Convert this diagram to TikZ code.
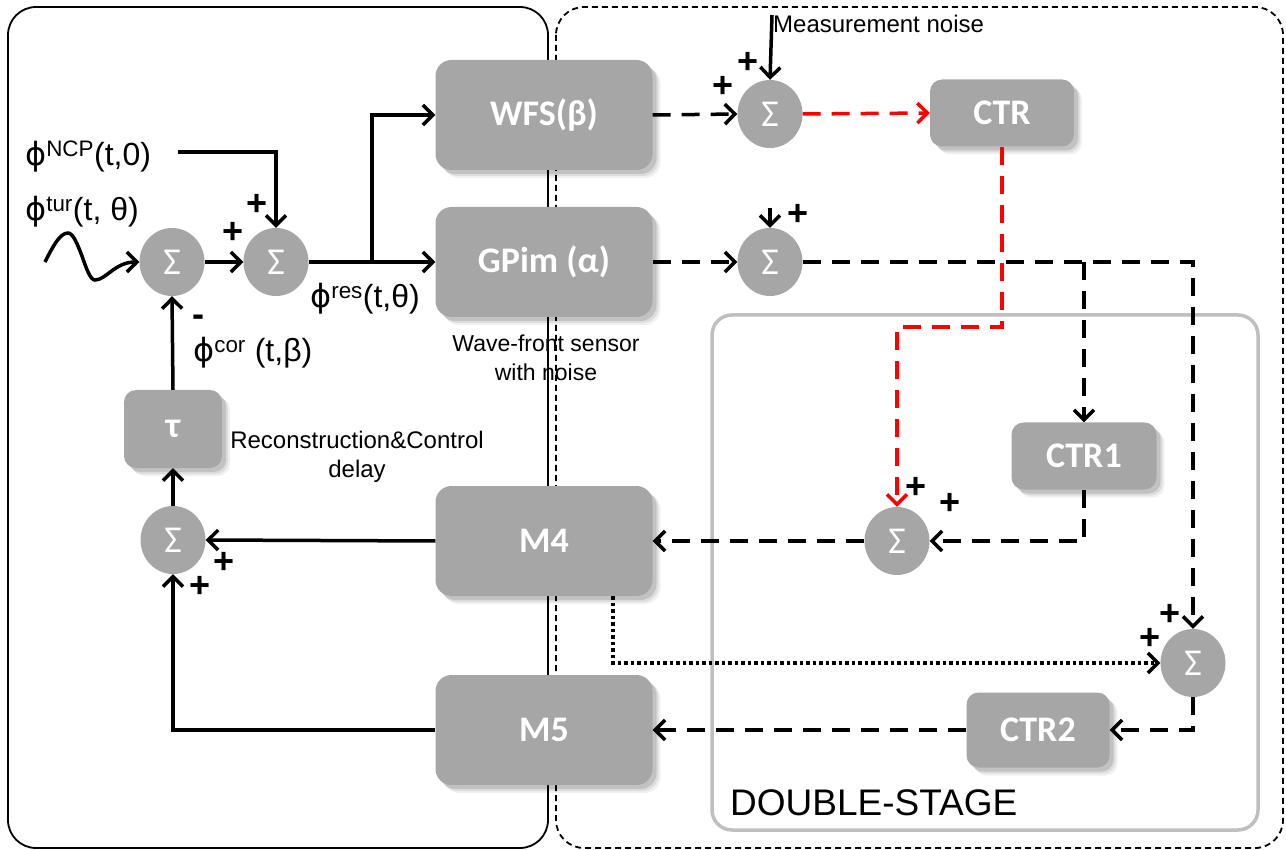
\documentclass[tikz,border=0pt]{standalone}
\usepackage{fontspec}
\setmainfont{Liberation Sans}
\newfontfamily\calfont{Carlito}
\newfontfamily\djv{DejaVu Sans}
\usetikzlibrary{arrows.meta,shapes.geometric}
\definecolor{boxgray}{HTML}{A6A6A6}
\definecolor{dsgray}{HTML}{BFBFBF}
\newcommand{\phisym}{{\djv ϕ}}
\begin{document}
\begin{tikzpicture}[x=1pt,y=-1pt,
  blk/.style={rectangle, rounded corners=16pt, fill=boxgray, text=white,
    font=\calfont\bfseries\fontsize{36}{36}\selectfont, inner sep=0pt,
    preaction={fill=black, opacity=0.06, transform canvas={xshift=8pt,yshift=-8pt}},
    preaction={fill=black, opacity=0.08, transform canvas={xshift=6pt,yshift=-6pt}},
    preaction={fill=black, opacity=0.12, transform canvas={xshift=4pt,yshift=-4pt}}},
  sumn/.style={ellipse, fill=boxgray, minimum width=65pt, minimum height=68pt,
    inner sep=0pt, text=white, font=\calfont\fontsize{38}{38}\selectfont},
  conn/.style={line width=3.5pt, -{Straight Barb[length=10pt,width=20pt]}},
  dsh/.style={conn, dash pattern=on 18pt off 11pt},
  dotln/.style={conn, dash pattern=on 3.5pt off 3pt},
  pl/.style={font=\bfseries\fontsize{36}{36}\selectfont, inner sep=0pt},
  lbl/.style={font=\fontsize{32}{34}\selectfont, inner sep=0pt, anchor=base west},
  note/.style={font=\fontsize{23}{29}\selectfont, inner sep=0pt, align=center}
]
\useasboundingbox (0,0) rectangle (1286,850);
% containers
\draw[line width=1.8pt, rounded corners=28pt] (8,7) rectangle (548,848);
\draw[line width=1.8pt, rounded corners=28pt, dash pattern=on 6pt off 4pt] (556,7) rectangle (1283,848);
\draw[draw=dsgray, line width=3.5pt, rounded corners=20pt] (712,315) rectangle (1258,830);
\node[anchor=base west, font=\fontsize{37}{37}\selectfont, inner sep=0pt] (ds) at (730,815) {DOUBLE-STAGE};

% blocks
\node[blk, minimum width=217pt, minimum height=110pt] (WFS) at (544,115) {WFS(β)};
\node[blk, minimum width=217pt, minimum height=110pt] (GPim) at (544,262) {GPim (α)};
\node[blk, minimum width=217pt, minimum height=110pt] (M4) at (544,541) {M4};
\node[blk, minimum width=217pt, minimum height=110pt] (M5) at (544,730) {M5};
\node[blk, minimum width=98pt, minimum height=78pt, rounded corners=12pt] (tau) at (173,429) {τ};
\node[blk, minimum width=144pt, minimum height=67pt, rounded corners=12pt] (CTR) at (1002,113) {CTR};
\node[blk, minimum width=145pt, minimum height=67pt, rounded corners=12pt] (CTR1) at (1084,456) {CTR1};
\node[blk, minimum width=143pt, minimum height=75pt, rounded corners=12pt] (CTR2) at (1038,730) {CTR2};

% sums
\node[sumn] (S1) at (172,262) {Σ};
\node[sumn] (S2) at (276,262) {Σ};
\node[sumn] (S3) at (770,114) {Σ};
\node[sumn] (S4) at (770,262) {Σ};
\node[sumn] (S5) at (173,540) {Σ};
\node[sumn] (S6) at (897,541) {Σ};
\node[sumn] (S7) at (1193,663) {Σ};

% labels
\node[lbl] (ncp) at (25,166) {\phisym\textsuperscript{NCP}(t,0)};
\node[lbl] (tur) at (25,221) {\phisym\textsuperscript{tur}(t, θ)};
\node[lbl] (res) at (310,308) {\phisym\textsuperscript{res}(t,θ)};
\node[lbl] (cor) at (193,362) {\phisym\textsuperscript{cor} (t,β)};
\node[note] (wfsn) at (546,358) {Wave-front sensor\\with noise};
\node[note, font=\fontsize{24}{29}\selectfont] (rcd) at (357,457) {Reconstruction\&Control\\delay};
\node[font=\fontsize{24}{24}\selectfont, inner sep=0pt, anchor=base west] (mnt) at (773,33) {Measurement noise};

% signs
\node[pl] (p1) at (233,233) {+};
\node[pl] (p2) at (257,205) {+};
\node[pl] (m1) at (198,321) {-};
\node[pl] (p3) at (748,63) {+};
\node[pl] (p4) at (723,87) {+};
\node[pl] (p5) at (798,215) {+};
\node[pl] (p6) at (916,488) {+};
\node[pl] (p7) at (950,504) {+};
\node[pl] (p8) at (1170,615) {+};
\node[pl] (p9) at (1150,639) {+};
\node[pl] (p10) at (224,563) {+};
\node[pl] (p11) at (200,587) {+};

% connectors left
\coordinate (ncpend) at (178,152);
\coordinate (wv) at (45,262);
\coordinate (split) at (372,262);
\draw[conn] (ncpend) -| (S2.north);
\draw[conn] (wv) sin (68,233) cos (82,256) sin (95,280) .. controls (106,280) and (115,262) .. (S1.west);
\draw[conn] (S1.east) -- (S2.west);
\draw[conn] (S2.east) -- (GPim.west);
\draw[conn] (split) |- (WFS.west);
\draw[conn] (tau.north) -- (S1.south);
\draw[conn] (S5.north) -- (tau.south);
\draw[conn] (M4.west) -- (S5.east);
\draw[conn] (M5.west) -| (S5.south);

% connectors right
\coordinate (mn) at (772,15);
\coordinate (in4) at (770,208);
\draw[dsh] (WFS.east) -- (S3.west);
\draw[conn] (mn) -- (S3.north);
\draw[dsh, draw=red] (S3.east) -- (CTR.west);
\draw[dsh, draw=red] (CTR.south) -- (CTR.south |- 0,327) -| (S6.north);
\draw[dsh] (GPim.east) -- (S4.west);
\draw[conn] (in4) -- (S4.north);
\draw[dsh] (S4.east) -| (S7.north);
\draw[dsh] (CTR1.north |- S4.east) -- (CTR1.north);
\draw[dsh] (CTR1.south) |- (S6.east);
\draw[dsh] (S6.west) -- (M4.east);
\draw[dotln] ([xshift=69pt]M4.south) |- (S7.west);
\draw[dsh] (S7.south) |- (CTR2.east);
\draw[dsh] (CTR2.west) -- (M5.east);
\end{tikzpicture}
\end{document}
